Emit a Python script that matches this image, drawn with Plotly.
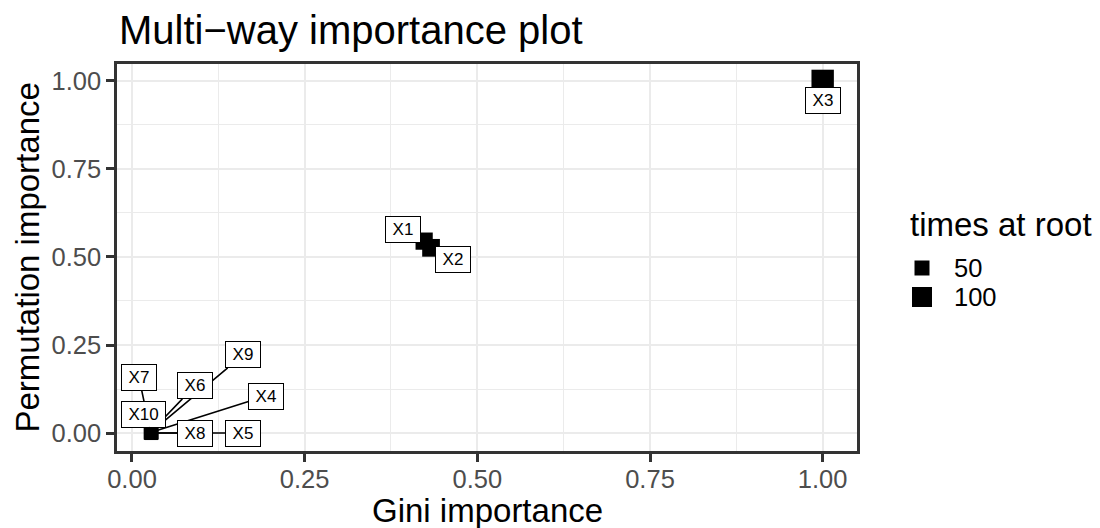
import plotly.graph_objects as go
import numpy as np

# ---------------- data ----------------
variables = ["X1", "X2", "X3", "X4", "X5", "X6", "X7", "X8", "X9", "X10"]
gini_importance = [0.423, 0.433, 1.0, 0.028, 0.028, 0.027, 0.027, 0.028, 0.028, 0.027]
permutation_importance = [0.545, 0.526, 1.0, 0.002, 0.0, 0.003, 0.001, 0.0, 0.003, 0.002]
times_at_root = [70, 75, 130, 40, 42, 38, 41, 39, 43, 37]

legend_breaks = [50, 100]
tick_values = [0, 0.25, 0.5, 0.75, 1.0]
tick_labels = ["0.00", "0.25", "0.50", "0.75", "1.00"]

# ---------------- layout config ----------------
FONT = "Liberation Sans, Arial, sans-serif"
W, H = 1100, 528
L, R, T, B = 117, 243, 64, 77
PW, PH = W - L - R, H - T - B

# label placement (repel offsets, data units) -- layout, not data
label_offsets = {
    "X1": (-0.030, 0.032), "X2": (0.032, -0.032), "X3": (0.0, -0.057),
    "X4": (0.166, 0.103), "X5": (0.132, 0.0), "X6": (0.064, 0.131),
    "X7": (-0.017, 0.158), "X8": (0.063, 0.0), "X9": (0.133, 0.219),
    "X10": (-0.010, 0.052),
}
label_order = ["X5", "X4", "X9", "X6", "X7", "X10", "X8", "X1", "X2", "X3"]


def size_px(v):
    return 1.707 * np.sqrt(v) + 2.93


def px2paper_x(px):
    return (px - L) / PW


def px2paper_y(py):
    return (H - B - py) / PH


fig = go.Figure()
fig.add_trace(go.Scatter(
    x=gini_importance, y=permutation_importance, mode="markers",
    marker=dict(symbol="square", color="black", opacity=1,
                size=[size_px(v) for v in times_at_root], line=dict(width=0)),
    showlegend=False, hoverinfo="skip"))

annotations = []
idx = {v: i for i, v in enumerate(variables)}
for name in label_order:
    i = idx[name]
    dx, dy = label_offsets[name]
    x0, y0 = gini_importance[i], permutation_importance[i]
    annotations.append(dict(
        x=x0, y=y0, xref="x", yref="y",
        ax=x0 + dx, ay=y0 + dy, axref="x", ayref="y",
        text=name, showarrow=True, arrowhead=0, arrowwidth=1.6,
        arrowcolor="black", standoff=0, startstandoff=0,
        font=dict(family=FONT, size=17, color="black"),
        bgcolor="white", bordercolor="black", borderwidth=1, borderpad=3,
        width=28 if len(name) == 2 else 37, height=19, align="center"))

# title
annotations.append(dict(x=px2paper_x(117), y=px2paper_y(30), xref="paper", yref="paper",
                        xanchor="left", yanchor="middle", showarrow=False,
                        text="Multi\u2212way importance plot",
                        font=dict(family=FONT, size=40, color="black")))
# axis titles
annotations.append(dict(x=0.5, y=px2paper_y(510), xref="paper", yref="paper",
                        xanchor="center", yanchor="middle", showarrow=False,
                        text="Gini importance", font=dict(family=FONT, size=33, color="black")))
annotations.append(dict(x=px2paper_x(27), y=0.5, xref="paper", yref="paper",
                        xanchor="center", yanchor="middle", showarrow=False, textangle=-90,
                        text="Permutation importance", font=dict(family=FONT, size=33, color="black")))
# legend
annotations.append(dict(x=px2paper_x(908), y=px2paper_y(224), xref="paper", yref="paper",
                        xanchor="left", yanchor="middle", showarrow=False,
                        text="times at root", font=dict(family=FONT, size=33, color="black")))
shapes = []
legend_y = [268, 297]
for b, ly in zip(legend_breaks, legend_y):
    s = size_px(b)
    cx = 922
    shapes.append(dict(type="rect", xref="paper", yref="paper",
                       x0=px2paper_x(cx - s / 2), x1=px2paper_x(cx + s / 2),
                       y0=px2paper_y(ly + s / 2), y1=px2paper_y(ly - s / 2),
                       fillcolor="black", line=dict(width=0)))
    annotations.append(dict(x=px2paper_x(952), y=px2paper_y(ly), xref="paper", yref="paper",
                            xanchor="left", yanchor="middle", showarrow=False,
                            text=str(b), font=dict(family=FONT, size=25.5, color="black")))

axis_common = dict(
    tickvals=tick_values, ticktext=tick_labels,
    showgrid=True, gridcolor="#EBEBEB", gridwidth=2.2,
    minor=dict(showgrid=True, gridcolor="#EBEBEB", gridwidth=1.1, dtick=0.125, tick0=0),
    zeroline=False, showline=True, mirror=True, linecolor="#333333", linewidth=2.5,
    ticks="outside", ticklen=8, tickwidth=2.5, tickcolor="#333333",
    tickfont=dict(family=FONT, size=25.5, color="#4D4D4D"),
)

fig.update_layout(
    width=W, height=H, margin=dict(l=L, r=R, t=T, b=B, autoexpand=False),
    paper_bgcolor="white", plot_bgcolor="white",
    xaxis=dict(range=[-0.0217, 1.0497], ticklabelstandoff=-4, **axis_common),
    yaxis=dict(range=[-0.051, 1.048], **axis_common),
    annotations=annotations, shapes=shapes, showlegend=False,
)

fig.write_html("out.html", config={"displayModeBar": False},
               post_script="document.body.style.margin='0';document.body.style.overflow='hidden';")
